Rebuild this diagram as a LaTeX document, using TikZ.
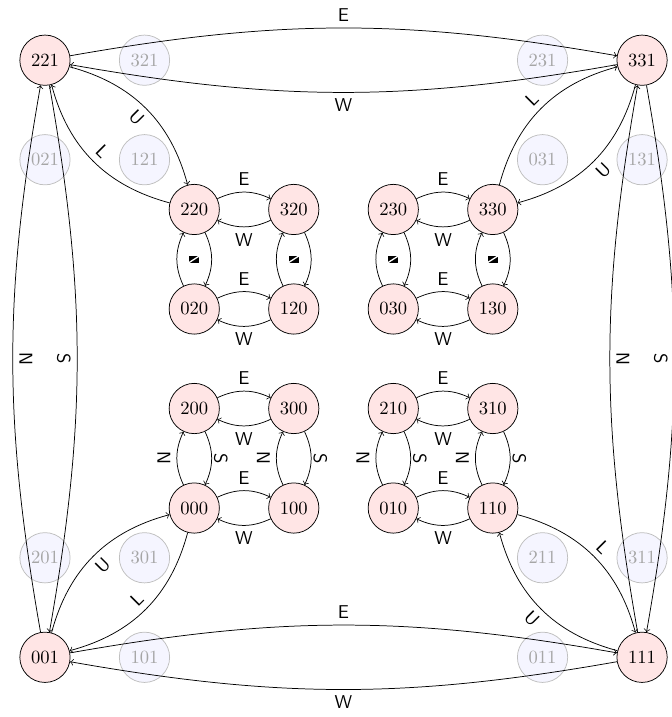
\documentclass[tikz,border=0pt]{standalone}
\begin{document}
\begin{tikzpicture}[x=1.88cm,y=1.88cm,
  st/.style={circle,draw,fill=red!10,minimum size=0.95cm,inner sep=0pt},
  gh/.style={circle,draw=black!25,fill=blue!4,text=black!35,minimum size=0.95cm,inner sep=0pt},
  lab/.style={font=\sffamily,sloped,auto},
  tr/.style={->,bend left=#1},
  glyph/.style={rectangle,fill=black,minimum width=5.6pt,minimum height=3.6pt,inner sep=0pt,
    path picture={\draw[white,line width=0.7pt] (path picture bounding box.south west) -- (path picture bounding box.north east);}}
]
\useasboundingbox (-0.452,-0.6) rectangle (6.291,6.605);
% ghost nodes
\node[gh] (g321) at (1,6) {321};
\node[gh] (g231) at (5,6) {231};
\node[gh] (g021) at (0,5) {021};
\node[gh] (g121) at (1,5) {121};
\node[gh] (g031) at (5,5) {031};
\node[gh] (g131) at (6,5) {131};
\node[gh] (g201) at (0,1) {201};
\node[gh] (g301) at (1,1) {301};
\node[gh] (g211) at (5,1) {211};
\node[gh] (g311) at (6,1) {311};
\node[gh] (g101) at (1,0) {101};
\node[gh] (g011) at (5,0) {011};
% states
\node[st] (221) at (0,6) {221};
\node[st] (331) at (6,6) {331};
\node[st] (001) at (0,0) {001};
\node[st] (111) at (6,0) {111};
\node[st] (220) at (1.5,4.5) {220};
\node[st] (320) at (2.5,4.5) {320};
\node[st] (230) at (3.5,4.5) {230};
\node[st] (330) at (4.5,4.5) {330};
\node[st] (020) at (1.5,3.5) {020};
\node[st] (120) at (2.5,3.5) {120};
\node[st] (030) at (3.5,3.5) {030};
\node[st] (130) at (4.5,3.5) {130};
\node[st] (200) at (1.5,2.5) {200};
\node[st] (300) at (2.5,2.5) {300};
\node[st] (210) at (3.5,2.5) {210};
\node[st] (310) at (4.5,2.5) {310};
\node[st] (000) at (1.5,1.5) {000};
\node[st] (100) at (2.5,1.5) {100};
\node[st] (010) at (3.5,1.5) {010};
\node[st] (110) at (4.5,1.5) {110};
% glyphs
\node[glyph] (m1) at (1.5,4) {};
\node[glyph] (m2) at (2.5,4) {};
\node[glyph] (m3) at (3.5,4) {};
\node[glyph] (m4) at (4.5,4) {};
% inner clusters
\foreach \a/\b/\c/\d in {220/320/020/120,230/330/030/130}{
  \draw[tr=25] (\a) to node[lab]{E} (\b);
  \draw[tr=25] (\b) to node[lab,swap]{W} (\a);
  \draw[tr=25] (\c) to node[lab]{E} (\d);
  \draw[tr=25] (\d) to node[lab,swap]{W} (\c);
  \draw[tr=25] (\c) to (\a);
  \draw[tr=25] (\a) to (\c);
  \draw[tr=25] (\d) to (\b);
  \draw[tr=25] (\b) to (\d);
}
\foreach \a/\b/\c/\d in {200/300/000/100,210/310/010/110}{
  \draw[tr=25] (\a) to node[lab]{E} (\b);
  \draw[tr=25] (\b) to node[lab,swap]{W} (\a);
  \draw[tr=25] (\c) to node[lab]{E} (\d);
  \draw[tr=25] (\d) to node[lab,swap]{W} (\c);
  \draw[tr=25] (\c) to node[lab]{N} (\a);
  \draw[tr=25] (\a) to node[lab,inner sep=1pt]{S} (\c);
  \draw[tr=25] (\d) to node[lab]{N} (\b);
  \draw[tr=25] (\b) to node[lab,inner sep=1pt]{S} (\d);
}
% outer
\draw[tr=10] (221) to node[lab]{E} (331);
\draw[tr=10] (331) to node[lab,swap]{W} (221);
\draw[tr=10] (001) to node[lab]{E} (111);
\draw[tr=10] (111) to node[lab,swap]{W} (001);
\draw[tr=10] (001) to node[lab,swap]{N} (221);
\draw[tr=10] (221) to node[lab,swap]{S} (001);
\draw[tr=10] (111) to node[lab,swap]{N} (331);
\draw[tr=10] (331) to node[lab,swap]{S} (111);
% corners
\draw[tr=30] (221) to node[lab,swap]{U} (220);
\draw[tr=30] (220) to node[lab]{L} (221);
\draw[tr=30] (001) to node[lab,swap]{U} (000);
\draw[tr=30] (000) to node[lab]{L} (001);
\draw[tr=30] (330) to node[lab]{L} (331);
\draw[tr=30] (331) to node[lab,swap]{U} (330);
\draw[tr=30] (110) to node[lab]{L} (111);
\draw[tr=30] (111) to node[lab,swap]{U} (110);
\end{tikzpicture}
\end{document}
